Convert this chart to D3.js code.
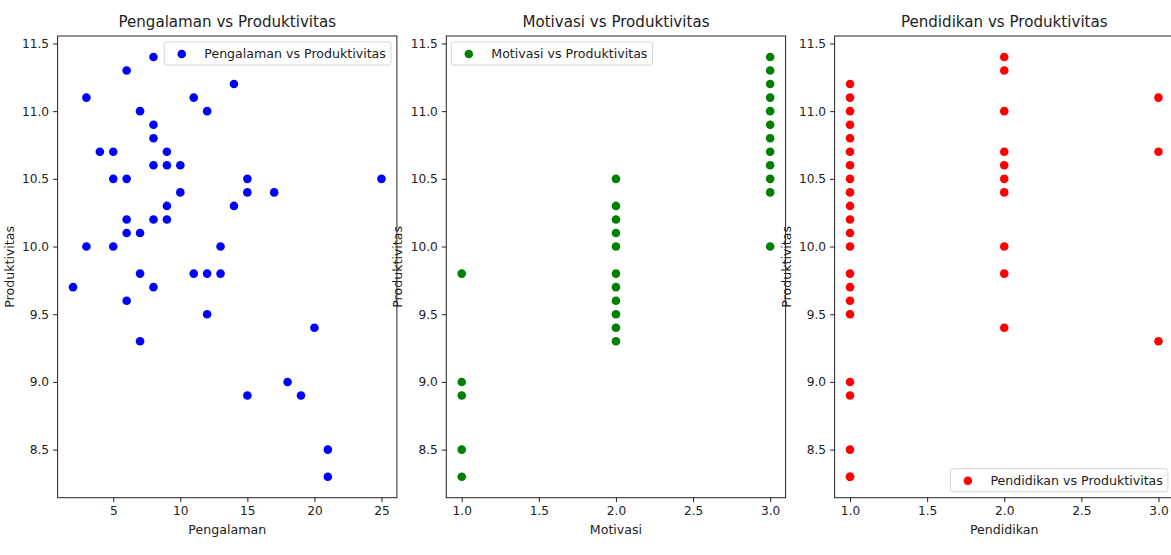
<!DOCTYPE html>
<html>
<head>
<meta charset="utf-8">
<script src="https://cdn.jsdelivr.net/npm/d3@7"></script>
<style>
  body { margin: 0; background: #fff; }
  svg { display: block; font-family: "DejaVu Sans", sans-serif; }
</style>
</head>
<body>
<svg id="chart" width="1171" height="555"></svg>
<script>
// data
const pengalaman = [8, 6, 14, 3, 11, 7, 12, 8, 8, 4, 5, 9, 8, 9, 10, 5, 6, 15, 25, 10, 15, 17, 9, 14,
  6, 8, 9, 6, 7, 3, 5, 13, 7, 11, 12, 13, 2, 8, 6, 12, 20, 7, 18, 15, 19, 21, 21];
const prodPengalaman = [11.4, 11.3, 11.2, 11.1, 11.1, 11.0, 11.0, 10.9, 10.8, 10.7, 10.7, 10.7, 10.6, 10.6, 10.6,
  10.5, 10.5, 10.5, 10.5, 10.4, 10.4, 10.4, 10.3, 10.3, 10.2, 10.2, 10.2, 10.1, 10.1, 10.0, 10.0, 10.0,
  9.8, 9.8, 9.8, 9.8, 9.7, 9.7, 9.6, 9.5, 9.4, 9.3, 9.0, 8.9, 8.9, 8.5, 8.3];

const motivasi = [1, 1, 1, 1, 1,
  2, 2, 2, 2, 2, 2, 2, 2, 2, 2, 2,
  3, 3, 3, 3, 3, 3, 3, 3, 3, 3, 3, 3];
const prodMotivasi = [9.8, 9.0, 8.9, 8.5, 8.3,
  10.5, 10.3, 10.2, 10.1, 10.0, 9.8, 9.7, 9.6, 9.5, 9.4, 9.3,
  11.4, 11.3, 11.2, 11.1, 11.0, 10.9, 10.8, 10.7, 10.6, 10.5, 10.4, 10.0];

const pendidikan = [1, 1, 1, 1, 1, 1, 1, 1, 1, 1, 1, 1, 1, 1, 1, 1, 1, 1, 1, 1, 1, 1,
  2, 2, 2, 2, 2, 2, 2, 2, 2, 2,
  3, 3, 3];
const prodPendidikan = [11.2, 11.1, 11.0, 10.9, 10.8, 10.7, 10.6, 10.5, 10.4, 10.3, 10.2, 10.1, 10.0,
  9.8, 9.7, 9.6, 9.5, 9.0, 8.9, 8.5, 8.3, 8.3,
  11.4, 11.3, 11.0, 10.7, 10.6, 10.5, 10.4, 10.0, 9.8, 9.4,
  11.1, 10.7, 9.3];

const xTicks1 = [5, 10, 15, 20, 25];
const xTicks23 = [1.0, 1.5, 2.0, 2.5, 3.0];
const yTicks = [8.5, 9.0, 9.5, 10.0, 10.5, 11.0, 11.5];

const panels = [
  { title: "Pengalaman vs Produktivitas", xLabel: "Pengalaman", xs: pengalaman, ys: prodPengalaman,
    color: "#0000ff", xTicks: xTicks1, xFmt: d3.format("d"), legend: "upper right" },
  { title: "Motivasi vs Produktivitas", xLabel: "Motivasi", xs: motivasi, ys: prodMotivasi,
    color: "#008000", xTicks: xTicks23, xFmt: d3.format(".1f"), legend: "upper left" },
  { title: "Pendidikan vs Produktivitas", xLabel: "Pendidikan", xs: pendidikan, ys: prodPendidikan,
    color: "#ff0000", xTicks: xTicks23, xFmt: d3.format(".1f"), legend: "lower right" }
];

const svg = d3.select("#chart");
const lefts = [57.6, 446.3, 834.6];
const pw = 339.3, plotTop = 36, plotBottom = 497.7;
const fs = 12.6;

// matplotlib style 5% padding
function padded(vals) {
  const [a, b] = d3.extent(vals);
  const m = (b - a) * 0.05;
  return [a - m, b + m];
}

const yDomain = padded(prodPengalaman.concat(prodMotivasi, prodPendidikan));

panels.forEach((p, i) => {
  const x0 = lefts[i];
  const x = d3.scaleLinear().domain(padded(p.xs)).range([x0, x0 + pw]);
  const y = d3.scaleLinear().domain(yDomain).range([plotBottom, plotTop]);

  const g = svg.append("g");

  g.selectAll("circle")
    .data(p.xs.map((v, k) => [v, p.ys[k]]))
    .join("circle")
    .attr("cx", d => x(d[0]))
    .attr("cy", d => y(d[1]))
    .attr("r", 4.3)
    .attr("fill", p.color);

  const xAxis = g.append("g")
    .attr("transform", `translate(0,${plotBottom})`)
    .call(d3.axisBottom(x).tickValues(p.xTicks).tickFormat(p.xFmt).tickSize(4.5).tickPadding(4));
  const yAxis = g.append("g")
    .attr("transform", `translate(${x0},0)`)
    .call(d3.axisLeft(y).tickValues(yTicks).tickFormat(d3.format(".1f")).tickSize(4.5).tickPadding(4));
  [xAxis, yAxis].forEach(a => {
    a.select(".domain").remove();
    a.selectAll("line").attr("stroke", "#222").attr("stroke-width", 1);
    a.selectAll("text").attr("fill", "#222").style("font-size", "12.2px")
      .style("font-family", "DejaVu Sans");
  });

  g.append("rect")
    .attr("x", x0).attr("y", plotTop)
    .attr("width", pw).attr("height", plotBottom - plotTop)
    .attr("fill", "none").attr("stroke", "#222").attr("stroke-width", 1);

  g.append("text")
    .attr("x", x0 + pw / 2).attr("y", 27)
    .attr("text-anchor", "middle")
    .style("font-size", "15.1px")
    .attr("fill", "#222")
    .text(p.title);

  g.append("text")
    .attr("x", x0 + pw / 2).attr("y", 534)
    .attr("text-anchor", "middle")
    .style("font-size", fs + "px")
    .attr("fill", "#222")
    .text(p.xLabel);

  g.append("text")
    .attr("transform", `translate(${x0 - 44},${(plotTop + plotBottom) / 2}) rotate(-90)`)
    .attr("text-anchor", "middle")
    .style("font-size", fs + "px")
    .attr("fill", "#222")
    .text("Produktivitas");

  // legend
  const lg = g.append("g");
  const box = lg.append("rect");
  const label = lg.append("text")
    .style("font-size", fs + "px")
    .attr("fill", "#222")
    .text(p.title);
  const tw = label.node().getComputedTextLength();
  const bw = 5 + 25 + 10 + tw + 5, bh = 23;
  let bx, by;
  if (p.legend === "upper right") { bx = x0 + pw - 6 - bw; by = plotTop + 6; }
  if (p.legend === "upper left") { bx = x0 + 5; by = plotTop + 6; }
  if (p.legend === "lower right") { bx = x0 + pw - 6 - bw; by = plotBottom - 6 - bh; }
  box.attr("x", bx).attr("y", by).attr("width", bw).attr("height", bh)
    .attr("rx", 2).attr("fill", "#fff").attr("fill-opacity", 0.8)
    .attr("stroke", "#d5d5d5").attr("stroke-width", 1);
  lg.append("circle")
    .attr("cx", bx + 17.5).attr("cy", by + bh / 2 + 0.5)
    .attr("r", 4.3).attr("fill", p.color);
  label.attr("x", bx + 40).attr("y", by + bh / 2 + 4.5);
});
</script>
</body>
</html>
